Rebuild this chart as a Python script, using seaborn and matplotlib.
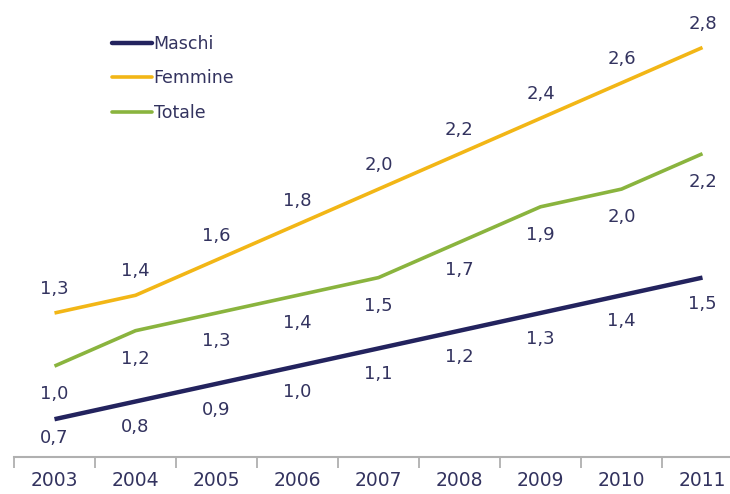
import pandas as pd
import seaborn as sns
import matplotlib.pyplot as plt
from matplotlib.ticker import FixedLocator

years = ['2003', '2004', '2005', '2006', '2007', '2008', '2009', '2010', '2011']
maschi = [0.7, 0.8, 0.9, 1.0, 1.1, 1.2, 1.3, 1.4, 1.5]
femmine = [1.3, 1.4, 1.6, 1.8, 2.0, 2.2, 2.4, 2.6, 2.8]
totale = [1.0, 1.2, 1.3, 1.4, 1.5, 1.7, 1.9, 2.0, 2.2]
series_names = ['Maschi', 'Femmine', 'Totale']
colors = ['#23235e', '#f2b616', '#8ab43e']
text_color = '#33335f'

# long format for seaborn
rows = []
for name, vals in zip(series_names, [maschi, femmine, totale]):
    for i, v in enumerate(vals):
        rows.append({'x': i, 'anno': years[i], 'serie': name, 'valore': v})
df = pd.DataFrame(rows)

sns.set_style('white')
plt.rcParams['font.family'] = ['DejaVu Sans']

fig = plt.figure(figsize=(7.3, 4.94), dpi=100)
ax = fig.add_axes([14 / 730, 37 / 494, 716 / 730, 457 / 494])

sns.lineplot(data=df, x='x', y='valore', hue='serie', hue_order=series_names,
             palette=colors, ax=ax, legend=False)
widths = [3.2, 2.6, 2.6]
for line, w in zip(ax.lines, widths):
    line.set_linewidth(w)
    line.set_solid_capstyle('butt')

# value labels: femmine above, maschi and totale below
offsets = {'Maschi': -26, 'Femmine': 24, 'Totale': -28}
for name, vals in zip(series_names, [maschi, femmine, totale]):
    for i, v in enumerate(vals):
        dy = offsets[name]
        if name == 'Maschi' and i == 0:
            dy = -19
        ax.annotate(f'{v:.1f}'.replace('.', ','), (i, v), xytext=(0, dy),
                    textcoords='offset pixels', ha='center', va='center',
                    fontsize=13, color=text_color)

ax.set_xlim(-0.5, -0.5 + 716 / 81)
ax.set_ylim(1.3 - 144 / 177, 1.3 + 313 / 177)

ax.set_xticks(range(len(years)))
ax.set_xticklabels(years, fontsize=13.5, color=text_color)
ax.xaxis.set_minor_locator(FixedLocator([i - 0.5 for i in range(len(years) + 1)]))
ax.tick_params(axis='x', which='major', length=0, pad=10)
ax.tick_params(axis='x', which='minor', length=8, width=1.3, color='#b0b0b0',
               direction='out', bottom=True)
ax.set_yticks([])
ax.set_xlabel('')
ax.set_ylabel('')

for side in ['top', 'right', 'left']:
    ax.spines[side].set_visible(False)
ax.spines['bottom'].set_color('#b0b0b0')
ax.spines['bottom'].set_linewidth(1.5)

# legend
handles = [plt.Line2D([], [], color=c, lw=w) for c, w in zip(colors, widths)]
leg = ax.legend(handles, series_names, loc='upper left',
                bbox_to_anchor=(82 / 716, 1 - 19 / 457), frameon=False,
                handlelength=2.3, handletextpad=0.12, labelspacing=0.95,
                fontsize=12.5)
for t in leg.get_texts():
    t.set_color(text_color)

fig.savefig('out.png', dpi=100)
